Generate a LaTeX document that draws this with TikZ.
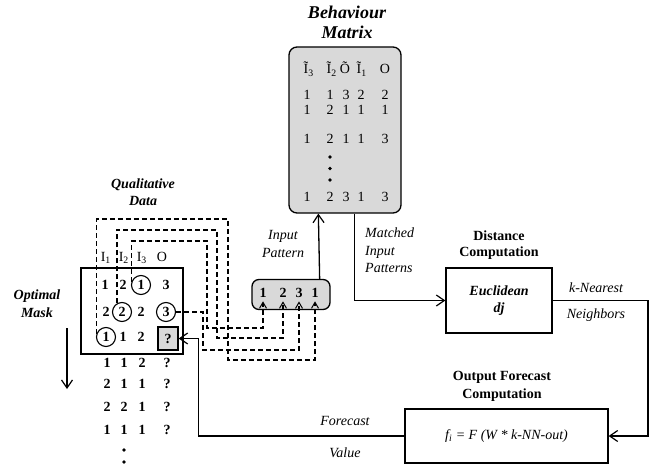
\documentclass[tikz,border=0pt]{standalone}
\usepackage{fontspec}
\setmainfont{Liberation Serif}
\usetikzlibrary{arrows.meta,calc}
\begin{document}
\begin{tikzpicture}[x=1pt,y=-1pt,
  every node/.style={font=\fontsize{14}{17}\selectfont, inner sep=0pt},
  bi/.style={font=\fontsize{14}{17}\selectfont\bfseries\itshape},
  it/.style={font=\fontsize{14}{17}\selectfont\itshape},
  bfn/.style={font=\fontsize{14}{17}\selectfont\bfseries},
  wire/.style={line width=1.3pt},
  dwire/.style={line width=1.7pt, dash pattern=on 5pt off 3pt},
  bigtip/.style={-{Straight Barb[length=8pt,width=11pt,line width=1.2pt]}},
  smalltip/.style={-{Straight Barb[length=6pt,width=7pt,line width=1pt]}},
  box/.style={draw, line width=1.3pt, inner sep=0pt},
  circ/.style={draw, circle, line width=1.1pt, minimum size=19pt, inner sep=0pt, font=\fontsize{14}{17}\selectfont\bfseries},
  dotn/.style={circle, fill, minimum size=3.8pt, inner sep=0pt},
]
\useasboundingbox (0,0) rectangle (652,468);

% ---------- Behaviour matrix ----------
\node[align=center, font=\fontsize{18}{20}\selectfont\bfseries\itshape] (bmt) at (347,22) {Behaviour\\Matrix};
\node[box, rounded corners=8pt, fill=gray!30, minimum width=112pt, minimum height=166pt] (bm) at (345,130) {};
\node[anchor=base west] (h1) at (303.5,74) {Ĩ\textsubscript{3}};
\node[anchor=base west] (h2) at (326.5,74) {Ĩ\textsubscript{2}};
\node[anchor=base] (h3) at (345,74) {Õ};
\node[anchor=base west] (h4) at (356.5,74) {Ĩ\textsubscript{1}};
\node[anchor=base] (h5) at (385,74) {O};
\foreach \r/\y/\a/\b/\c/\d/\e in {1/95/1/1/3/2/2, 2/110/1/2/1/1/1, 3/139/1/2/1/1/3, 4/197/1/2/3/1/3} {
  \node (b\r a) at (307,\y) {\a};
  \node (b\r b) at (330,\y) {\b};
  \node (b\r c) at (346,\y) {\c};
  \node (b\r d) at (361,\y) {\d};
  \node (b\r e) at (385,\y) {\e};
}
\node[dotn] (bd1) at (330,157) {};
\node[dotn] (bd2) at (330,168.5) {};
\node[dotn] (bd3) at (330,180) {};

% ---------- Input pattern ----------
\node[align=center, font=\fontsize{14}{18}\selectfont\itshape] (ipt) at (283,244) {Input\\Pattern};
\node[box, rounded corners=7pt, fill=gray!30, minimum width=78pt, minimum height=30pt] (ip) at (291,294.5) {};
\node[bfn, inner ysep=4pt] (in1) at (263,292.5) {1};
\node[bfn, inner ysep=4pt] (in2) at (283,292.5) {2};
\node[bfn, inner ysep=4pt] (in3) at (299,292.5) {3};
\node[bfn, inner ysep=4pt] (in4) at (315,292.5) {1};
\draw[wire, bigtip] ($(ip.north east)+(-11,0)$) -- ($(bm.south west)+(30,0)$);

% ---------- Distance computation ----------
\node[align=center, font=\fontsize{14}{16}\selectfont\bfseries] (dt) at (499,245) {Distance\\Computation};
\node[box, minimum width=106pt, minimum height=65pt, align=center, font=\fontsize{14}{17}\selectfont\bfseries\itshape] (dist) at (499,300.5) {Euclidean\\dj};
\node[anchor=west, align=left, font=\fontsize{14}{17.5}\selectfont\itshape] (mip) at (365,250.5) {Matched\\Input\\Patterns};
\draw[wire, bigtip] ($(bm.south west)+(66,0)$) |- (dist.west);

% ---------- Output forecast ----------
\node[align=center, font=\fontsize{14}{18}\selectfont\bfseries] (ot) at (502,386) {Output Forecast\\Computation};
\node[box, minimum width=203pt, minimum height=54pt, it] (out) at (506.5,436) {f\textsubscript{i} = F (W * k-NN-out)};
\node[it] (kn) at (596,288) {k-Nearest};
\node[it] (nb) at (596,315) {Neighbors};
\coordinate (kc) at (648,300.5);
\draw[wire, bigtip] (dist.east) -- (kc) |- (out.east);

% ---------- Qualitative data ----------
\node[align=center, font=\fontsize{14}{17}\selectfont\bfseries\itshape] (qdt) at (143,192) {Qualitative\\Data};
\node[box, minimum width=102pt, minimum height=86pt] (qd) at (132,311) {};
\node[anchor=base west] (q1) at (100.6,261) {I\textsubscript{1}};
\node[anchor=base west] (q2) at (118.6,261) {I\textsubscript{2}};
\node[anchor=base west] (q3) at (136.6,261) {I\textsubscript{3}};
\node[anchor=base] (q4) at (162,261) {O};
% row 1
\node[bfn] (r1a) at (105,285) {1};
\node[bfn] (r1b) at (123,285) {2};
\node[circ] (c13) at (141,285) {1};
\node[bfn] (r1d) at (166,285) {3};
% row 2
\node[bfn] (r2a) at (106,312) {2};
\node[circ] (c22) at (122,312) {2};
\node[bfn] (r2c) at (141,312) {2};
\node[circ] (c24) at (166,312) {3};
% row 3
\node[circ] (c31) at (106,337) {1};
\node[bfn] (r3b) at (123,337) {1};
\node[bfn] (r3c) at (141,337) {2};
\node[box, fill=gray!30, minimum width=20pt, minimum height=23pt, font=\fontsize{14}{17}\selectfont\bfseries] (qm) at (168,338.5) {?};
% rows below
\foreach \r/\y/\a/\b/\c in {1/363/1/1/2, 2/384/2/1/1, 3/407/2/2/1, 4/430/1/1/1} {
  \node[bfn] (u\r a) at (107,\y) {\a};
  \node[bfn] (u\r b) at (124,\y) {\b};
  \node[bfn] (u\r c) at (142,\y) {\c};
  \node[bfn] (u\r d) at (167,\y) {?};
}
\node[dotn] (ud1) at (124,450) {};
\node[dotn] (ud2) at (124,462) {};

% optimal mask
\node[align=center, font=\fontsize{14}{18}\selectfont\bfseries\itshape] (om) at (37,304) {Optimal\\Mask};
\coordinate (omA) at (67,328);
\coordinate (omB) at (67,389);
\draw[wire, bigtip] (omA) -- (omB);

% dashed selections
\draw[dwire, smalltip] (c13.160) |- (207,241) |- (in1.south |- 0,328) -- (in1.south);
\draw[dwire, smalltip] (c22.122) |- (217,230) |- (in2.south |- 0,338) -- (in2.south);
\draw[dwire, smalltip] (c24.east) -- (203,312) |- (in3.south |- 0,350) -- (in3.south);
\draw[dwire, smalltip] (c31.160) |- (228,219) |- (in4.south |- 0,360) -- (in4.south);

% forecast value
\node[it] (fc) at (345,421) {Forecast};
\node[it] (fv) at (345,453) {Value};
\draw[wire, bigtip] (out.west) -| ($(qm.east)+(20,0)$) -- (qm.east);
\end{tikzpicture}
\end{document}
